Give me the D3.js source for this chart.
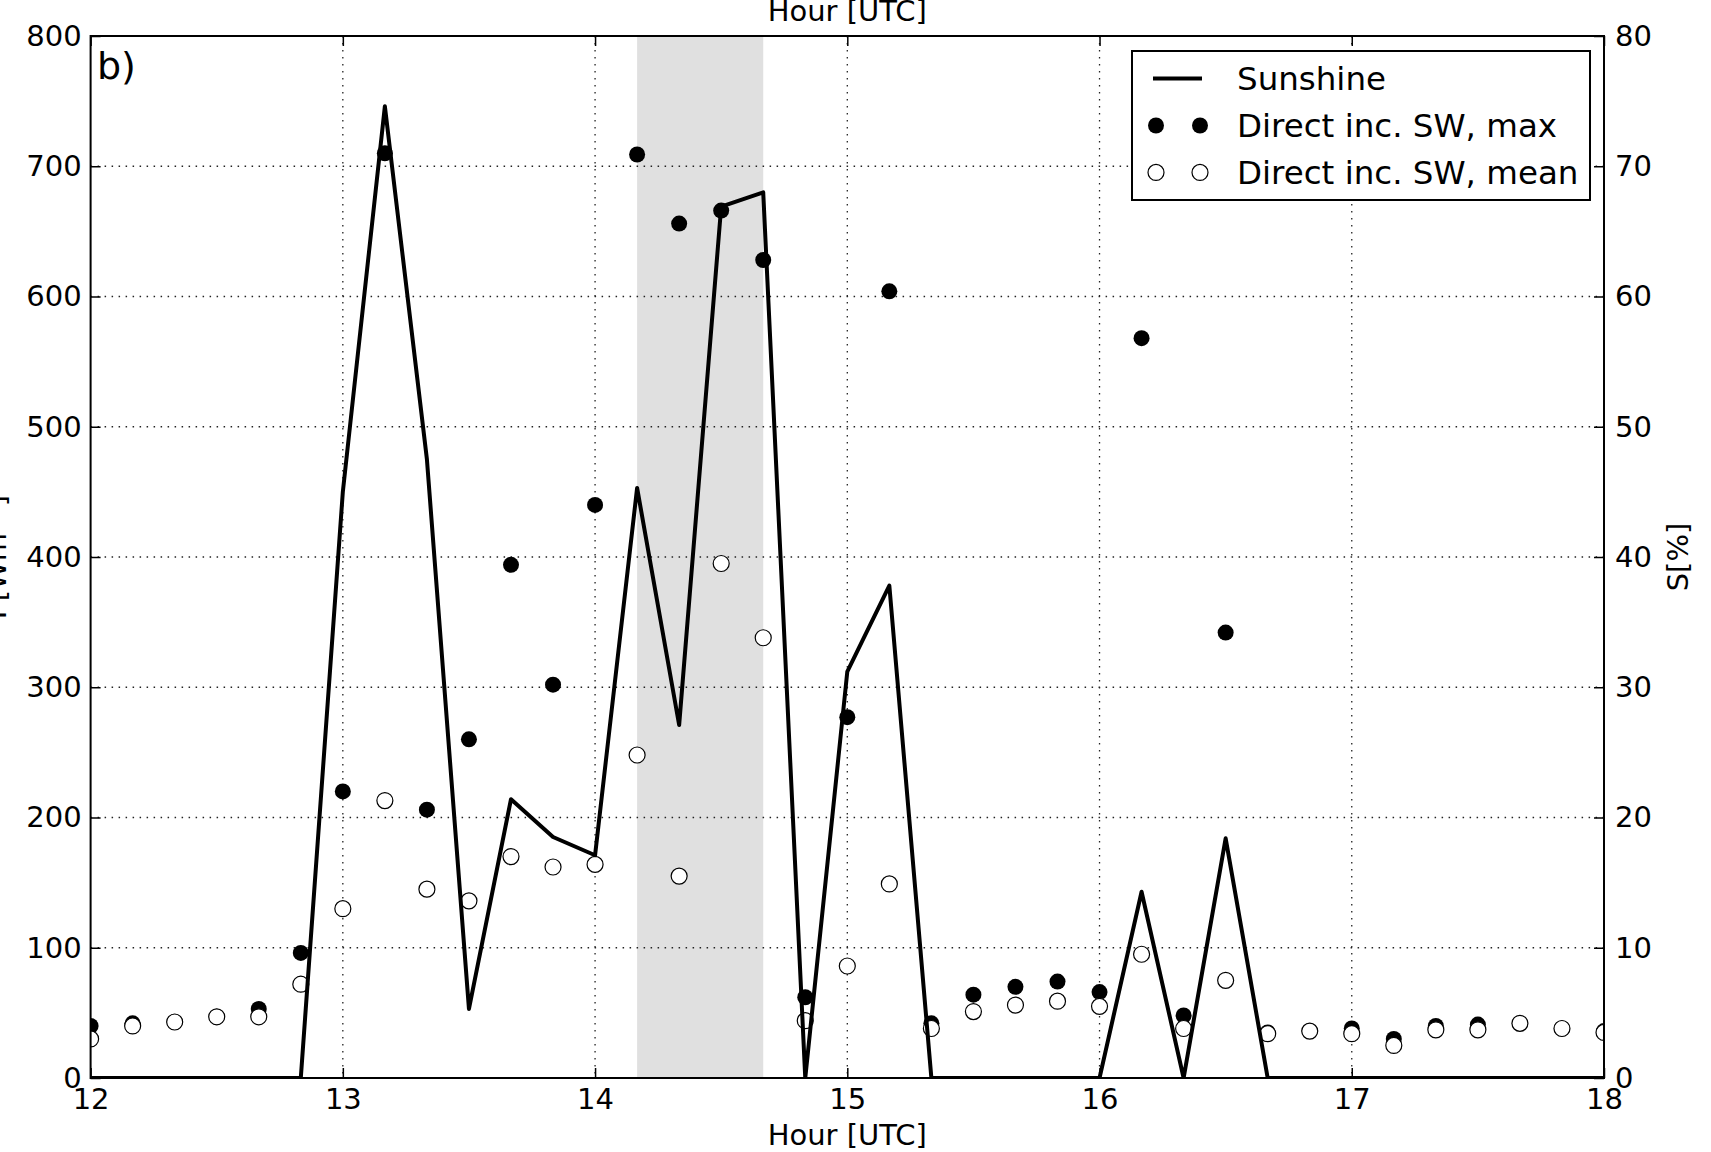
<!DOCTYPE html>
<html>
<head>
<meta charset="utf-8">
<script src="https://cdn.jsdelivr.net/npm/d3@7"></script>
<style>
  body { margin: 0; background: #fff; }
  svg { display: block; font-family: "DejaVu Sans", sans-serif; }
</style>
</head>
<body>
<script>
// sample times, 10 minute steps
const times = ["12:00","12:10","12:20","12:30","12:40","12:50",
  "13:00","13:10","13:20","13:30","13:40","13:50",
  "14:00","14:10","14:20","14:30","14:40","14:50",
  "15:00","15:10","15:20","15:30","15:40","15:50",
  "16:00","16:10","16:20","16:30","16:40","16:50",
  "17:00","17:10","17:20","17:30","17:40","17:50","18:00"];

// direct incoming SW, max [W m-2]
const swMax = [40, 42, 43, 47, 53, 96,
  220, 710, 206, 260, 394, 302,
  440, 709, 656, 666, 628, 62,
  277, 604, 42, 64, 70, 74,
  66, 568, 48, 342, 35, 36,
  38, 30, 40, 41, 42, 38, 36];

// direct incoming SW, mean [W m-2]
const swMean = [30, 40, 43, 47, 47, 72,
  130, 213, 145, 136, 170, 162,
  164, 248, 155, 395, 338, 44,
  86, 149, 38, 51, 56, 59,
  55, 95, 38, 75, 34, 36,
  34, 25, 37, 37, 42, 38, 35];

// sunshine [%]
const sunshine = [0, 0, 0, 0, 0, 0,
  45, 74.6, 47.5, 5.3, 21.4, 18.5,
  17.1, 45.3, 27.1, 66.9, 68.0, 0,
  31.2, 37.8, 0, 0, 0, 0,
  0, 14.3, 0, 18.4, 0, 0,
  0, 0, 0, 0, 0, 0, 0];

const xTicks = [12, 13, 14, 15, 16, 17, 18];
const yLeftTicks = [0, 100, 200, 300, 400, 500, 600, 700, 800];
const yRightTicks = [0, 10, 20, 30, 40, 50, 60, 70, 80];
const shadeBand = ["14:10", "14:40"];
const legendLabels = ["Sunshine", "Direct inc. SW, max", "Direct inc. SW, mean"];

const toHour = s => { const [h, m] = s.split(":").map(Number); return h + m / 60; };
const hours = times.map(toHour);

const W = 1711, H = 1152;
const L = 90.6, R = 1604, T = 36, B = 1078;

const x = d3.scaleLinear().domain([12, 18]).range([L, R]);
const yL = d3.scaleLinear().domain([0, 800]).range([B, T]);
const yR = d3.scaleLinear().domain([0, 80]).range([B, T]);

const svg = d3.select("body").append("svg")
  .attr("width", W).attr("height", H);

svg.append("clipPath").attr("id", "plotclip")
  .append("rect").attr("x", L).attr("y", T).attr("width", R - L).attr("height", B - T);

const plot = svg.append("g").attr("clip-path", "url(#plotclip)");

// grey band
plot.append("rect")
  .attr("x", x(toHour(shadeBand[0])))
  .attr("width", x(toHour(shadeBand[1])) - x(toHour(shadeBand[0])))
  .attr("y", T).attr("height", B - T)
  .attr("fill", "#e0e0e0");

// dotted grid
const grid = plot.append("g")
  .attr("stroke", "#222").attr("stroke-width", 1.3)
  .attr("stroke-dasharray", "1.5,5.5");
grid.selectAll("line.v").data(xTicks.slice(1, -1)).join("line")
  .attr("x1", d => x(d)).attr("x2", d => x(d))
  .attr("y1", T).attr("y2", B);
grid.selectAll("line.h").data(yLeftTicks.slice(1, -1)).join("line")
  .attr("x1", L).attr("x2", R)
  .attr("y1", d => yL(d)).attr("y2", d => yL(d));

// markers
const mr = 8;
plot.append("g").selectAll("circle").data(swMax).join("circle")
  .attr("cx", (d, i) => x(hours[i])).attr("cy", d => yL(d))
  .attr("r", mr).attr("fill", "#000");

plot.append("g").selectAll("circle").data(swMean).join("circle")
  .attr("cx", (d, i) => x(hours[i])).attr("cy", d => yL(d))
  .attr("r", mr).attr("fill", "#fff")
  .attr("stroke", "#000").attr("stroke-width", 1.2);

// sunshine line on right axis
const line = d3.line()
  .x((d, i) => x(hours[i]))
  .y(d => yR(d));
plot.append("path").datum(sunshine)
  .attr("d", line)
  .attr("fill", "none").attr("stroke", "#000")
  .attr("stroke-width", 4).attr("stroke-linejoin", "round");

// axes
const fs = 29;
function styleAxis(g) {
  g.select(".domain").remove();
  g.selectAll(".tick line").attr("stroke", "#000").attr("stroke-width", 1.5);
  g.selectAll(".tick text").attr("fill", "#000").attr("font-size", fs)
    .attr("font-family", "DejaVu Sans");
}

svg.append("g").attr("transform", `translate(${L},0)`)
  .call(d3.axisLeft(yL).tickValues(yLeftTicks).tickSize(-10).tickPadding(9))
  .call(styleAxis);

svg.append("g").attr("transform", `translate(${R},0)`)
  .call(d3.axisRight(yR).tickValues(yRightTicks).tickSize(-10).tickPadding(11))
  .call(styleAxis);

svg.append("g").attr("transform", `translate(0,${B})`)
  .call(d3.axisBottom(x).tickValues(xTicks).tickFormat(d3.format("d"))
    .tickSize(-10).tickPadding(10))
  .call(styleAxis);

svg.append("g").attr("transform", `translate(0,${T})`)
  .call(d3.axisTop(x).tickValues(xTicks).tickSize(-10).tickFormat(""))
  .call(styleAxis);

// frame
svg.append("rect")
  .attr("x", L).attr("y", T).attr("width", R - L).attr("height", B - T)
  .attr("fill", "none").attr("stroke", "#000").attr("stroke-width", 2);

// axis labels
svg.append("text").attr("x", (L + R) / 2).attr("y", 1145)
  .attr("text-anchor", "middle").attr("font-size", fs).text("Hour [UTC]");
svg.append("text").attr("x", (L + R) / 2).attr("y", 21)
  .attr("text-anchor", "middle").attr("font-size", fs).text("Hour [UTC]");
svg.append("text")
  .attr("transform", `translate(6,${(T + B) / 2}) rotate(-90)`)
  .attr("text-anchor", "middle").attr("font-size", fs).text("I [Wm⁻²]");
svg.append("text")
  .attr("transform", `translate(1688,${(T + B) / 2}) rotate(-90)`)
  .attr("text-anchor", "middle").attr("font-size", fs).text("S[%]");

// panel letter
svg.append("text").attr("x", 97).attr("y", 79)
  .attr("font-size", 38).text("b)");

// legend
const lg = svg.append("g");
lg.append("rect").attr("x", 1132).attr("y", 51).attr("width", 458).attr("height", 149)
  .attr("fill", "#fff").attr("stroke", "#000").attr("stroke-width", 2);
const rows = [78.6, 125.5, 172.4];
lg.append("line").attr("x1", 1153).attr("x2", 1202)
  .attr("y1", rows[0]).attr("y2", rows[0])
  .attr("stroke", "#000").attr("stroke-width", 4);
[1156, 1200].forEach(cx => {
  lg.append("circle").attr("cx", cx).attr("cy", rows[1]).attr("r", mr).attr("fill", "#000");
  lg.append("circle").attr("cx", cx).attr("cy", rows[2]).attr("r", mr)
    .attr("fill", "#fff").attr("stroke", "#000").attr("stroke-width", 1.2);
});
lg.selectAll("text").data(legendLabels).join("text")
  .attr("x", 1237).attr("y", (d, i) => rows[i]).attr("dy", "0.36em")
  .attr("font-size", 32.5).text(d => d);
</script>
</body>
</html>
